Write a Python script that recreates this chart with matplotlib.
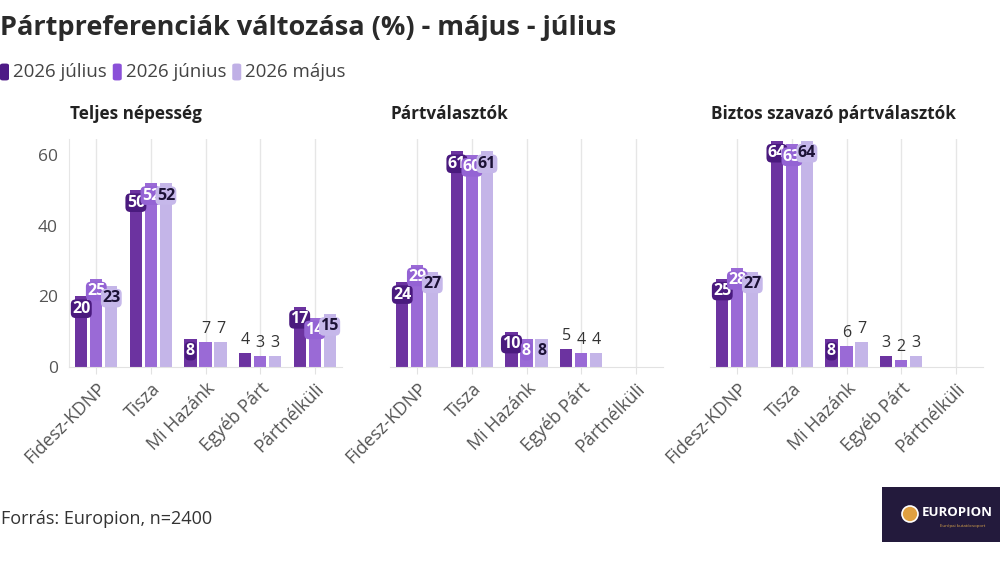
import numpy as np
import matplotlib
matplotlib.use("Agg")
import matplotlib.pyplot as plt
from matplotlib.patches import FancyBboxPatch, Ellipse

plt.rcParams['font.family'] = ['Open Sans', 'DejaVu Sans']

categories = ["Fidesz-KDNP", "Tisza", "Mi Hazánk", "Egyéb Párt", "Pártnélküli"]
series_names = ["2026 július", "2026 június", "2026 május"]
panel_titles = ["Teljes népesség", "Pártválasztók", "Biztos szavazó pártválasztók"]

teljes_julius = [20, 50, 8, 4, 17]
teljes_junius = [25, 52, 7, 3, 14]
teljes_majus = [23, 52, 7, 3, 15]

partval_julius = [24, 61, 10, 5, np.nan]
partval_junius = [29, 60, 8, 4, np.nan]
partval_majus = [27, 61, 8, 4, np.nan]

biztos_julius = [25, 64, 8, 3, np.nan]
biztos_junius = [28, 63, 6, 2, np.nan]
biztos_majus = [27, 64, 7, 3, np.nan]

yticks = [0, 20, 40, 60]

panels = [
    [teljes_julius, teljes_junius, teljes_majus],
    [partval_julius, partval_junius, partval_majus],
    [biztos_julius, biztos_junius, biztos_majus],
]

bar_colors = ["#6c33a0", "#9a6ad6", "#c4b5e8"]
legend_colors = ["#4e1a86", "#8a50d8", "#c0b0e6"]
badge_colors = ["#4a1a7e", "#9463d4", "#c6b8ea"]
badge_text = ["white", "white", "#1c1236"]

fig = plt.figure(figsize=(10, 5.63), dpi=100)

lefts = [0.069, 0.390, 0.710]
bottom, height, width = 0.348, 0.405, 0.273
offsets = [-0.275, 0.0, 0.275]
bw = 0.225
x = np.arange(len(categories))

for p, (left, data, ptitle) in enumerate(zip(lefts, panels, panel_titles)):
    ax = fig.add_axes([left, bottom, width, height])
    ax.set_xlim(-0.5, len(categories) - 0.5)
    ax.set_ylim(0, 64.5)
    for s, vals in enumerate(data):
        vals = np.array(vals, dtype=float)
        ax.bar(x + offsets[s], vals, width=bw, color=bar_colors[s], zorder=2)
        for xi, v in zip(x, vals):
            if np.isnan(v):
                continue
            if v >= 8:
                ax.text(xi + offsets[s], v - 3.5, f"{int(v)}", ha="center", va="center",
                        fontsize=11.5, fontweight="bold", color=badge_text[s], zorder=5,
                        bbox=dict(boxstyle="round,pad=0.08,rounding_size=0.3",
                                  fc=badge_colors[s], ec="none"))
            else:
                ax.text(xi + offsets[s], v + 1.5, f"{int(v)}", ha="center", va="bottom",
                        fontsize=11.5, color="#333333", zorder=5)
    ax.set_xticks(x)
    ax.set_xticklabels(categories, rotation=45, ha="right", rotation_mode="anchor",
                       fontsize=13, color="#555555")
    ax.tick_params(axis="x", length=5, color="#e2e2e2", pad=4)
    ax.grid(axis="x", color="#e6e6e6", linewidth=1, zorder=0)
    for side in ["top", "right"]:
        ax.spines[side].set_visible(False)
    ax.spines["bottom"].set_color("#e2e2e2")
    if p == 0:
        ax.spines["left"].set_color("#e6e6e6")
        ax.set_yticks(yticks)
        ax.set_yticklabels([str(t) for t in yticks], fontsize=12.5, color="#555555")
        ax.tick_params(axis="y", length=0, pad=8)
    else:
        ax.spines["left"].set_visible(False)
        ax.set_yticks([])
    fig.text(left + 0.001, 1 - 114 / 563, ptitle, fontsize=12.3, fontweight="bold",
             color="#222222", ha="left", va="center")

fig.text(0.0, 1 - 28 / 563, "Pártpreferenciák változása (%) - május - július",
         fontsize=19.5, fontweight="bold", color="#2a2a2a", ha="left", va="center")

# legend
lx = 0.001
ly = 1 - 72 / 563
for name, c in zip(series_names, legend_colors):
    fig.patches.append(FancyBboxPatch((lx - 0.001, ly - 0.015), 0.009, 0.030,
                                      boxstyle="round,pad=0,rounding_size=0.003",
                                      transform=fig.transFigure, fc=c, ec="none"))
    t = fig.text(lx + 0.012, ly, name, fontsize=13.5, color="#444444", ha="left", va="center")
    fig.canvas.draw()
    bb = t.get_window_extent()
    lx = bb.x1 / 1000 + 0.007

fig.text(0.001, 1 - 519 / 563, "Forrás: Europion, n=2400", fontsize=13,
         color="#333333", ha="left", va="center")

# logo box
fig.patches.append(FancyBboxPatch((0.882, 1 - 542 / 563), 0.118, 55 / 563,
                                  boxstyle="square,pad=0", transform=fig.transFigure,
                                  fc="#231a3c", ec="none"))
fig.patches.append(Ellipse((0.910, 1 - 514 / 563), 0.016, 16 / 563, transform=fig.transFigure,
                           fc="#e0a040", ec="white", lw=1.2))
fig.text(0.922, 1 - 512 / 563, "EUROPION", fontsize=9.5, fontweight="bold",
         color="white", ha="left", va="center")
fig.text(0.985, 1 - 526 / 563, "Európai kutatócsoport", fontsize=3.2,
         color="#d9a54a", ha="right", va="center")

fig.savefig("out.png", dpi=100)
